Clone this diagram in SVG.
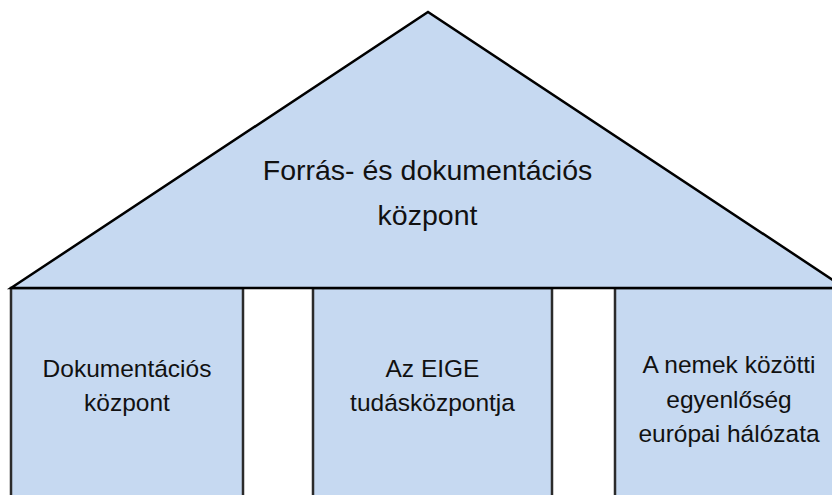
<svg xmlns="http://www.w3.org/2000/svg" width="832" height="495" viewBox="0 0 832 495">
<style>
.pillar{fill:#C6D9F1;stroke:#2b2b2b;stroke-width:2.5}
.roof{fill:#C6D9F1;stroke:#000;stroke-width:2.5;stroke-linejoin:miter}
.t{font-family:"Liberation Sans",Arial,sans-serif;fill:#111;text-anchor:middle}
.big{font-size:28.5px}
.small{font-size:24.5px}
</style>
<rect width="832" height="495" fill="#fff"/>
<g id="pillar-left">
<rect class="pillar" x="11" y="288" width="232" height="220"/>
<text class="t small" x="127" y="377">Dokumentációs</text>
<text class="t small" x="127" y="411">központ</text>
</g>
<g id="pillar-middle">
<rect class="pillar" x="313" y="288" width="239" height="220"/>
<text class="t small" x="432.5" y="377">Az EIGE</text>
<text class="t small" x="432.5" y="411">tudásközpontja</text>
</g>
<g id="pillar-right">
<rect class="pillar" x="615" y="288" width="228" height="220"/>
<text class="t small" x="729" y="373">A nemek közötti</text>
<text class="t small" x="729" y="407.5">egyenlőség</text>
<text class="t small" x="729" y="442">európai hálózata</text>
</g>
<g id="roof">
<polygon class="roof" points="11,288 428,12 845,288"/>
<text class="t big" x="427.5" y="180">Forrás- és dokumentációs</text>
<text class="t big" x="427.5" y="225">központ</text>
</g>
<g id="connectors"/>
</svg>
